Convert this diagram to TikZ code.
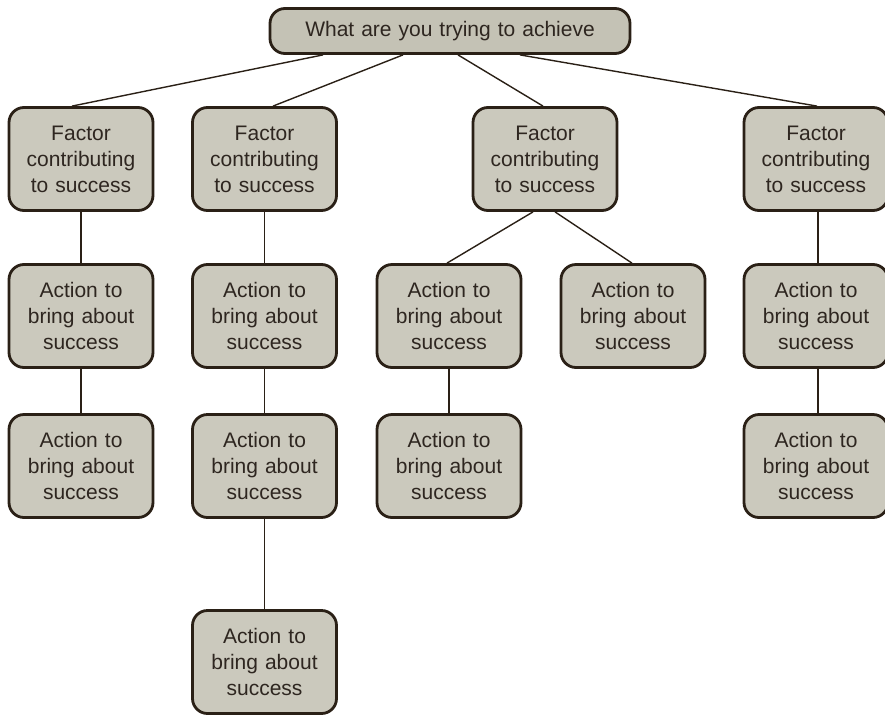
\documentclass[tikz,border=0pt]{standalone}
\usepackage{fontspec}
\setmainfont{Liberation Sans}
\definecolor{boxfill}{HTML}{CBC9BD}
\definecolor{topfill}{HTML}{C4C2B5}
\definecolor{edge}{HTML}{2A2016}
\definecolor{ink}{HTML}{2E2620}
\begin{document}
\begin{tikzpicture}[x=1pt,y=-1pt,
  card/.style={draw=edge, line width=2.8pt, fill=boxfill, rounded corners=15pt,
    minimum width=144pt, minimum height=103pt, text width=140pt, align=center,
    inner sep=0pt, text=ink, font=\fontsize{21}{26}\selectfont},
  goal/.style={card, fill=topfill, minimum width=360pt, minimum height=45pt, text width=350pt},
  link/.style={draw=edge, line width=1.4pt}]
\useasboundingbox (0,0) rectangle (885,715);

% goal
\node[goal] (top) at (450,31) {What are you trying to achieve};

% factors
\node[card] (f1) at (81,159)  {Factor\\contributing\\to success};
\node[card] (f2) at (264.5,159) {Factor\\contributing\\to success};
\node[card] (f3) at (545,159) {Factor\\contributing\\to success};
\node[card] (f4) at (816,159) {Factor\\contributing\\to success};

% actions
\node[card] (a1) at (81,316)  {Action to\\bring about\\success};
\node[card] (b1) at (81,466)  {Action to\\bring about\\success};
\node[card] (a2) at (264.5,316) {Action to\\bring about\\success};
\node[card] (b2) at (264.5,466) {Action to\\bring about\\success};
\node[card] (c2) at (264.5,662) {Action to\\bring about\\success};
\node[card] (a3) at (449,316) {Action to\\bring about\\success};
\node[card] (b3) at (449,466) {Action to\\bring about\\success};
\node[card] (a4) at (633,316) {Action to\\bring about\\success};
\node[card] (a5) at (816,316) {Action to\\bring about\\success};
\node[card] (b5) at (816,466) {Action to\\bring about\\success};

% connectors
\draw[link] ([xshift=-127pt]top.south) -- ([xshift=-9pt]f1.north);
\draw[link] ([xshift=-47pt]top.south) -- ([xshift=8.5pt]f2.north);
\draw[link] ([xshift=8pt]top.south) -- ([xshift=-2pt]f3.north);
\draw[link] ([xshift=70pt]top.south) -- ([xshift=1pt]f4.north);
\draw[link] (f1) -- (a1);
\draw[link] (a1) -- (b1);
\draw[link] (f2) -- (a2);
\draw[link] (a2) -- (b2);
\draw[link] (b2) -- (c2);
\draw[link] ([xshift=-12pt]f3.south) -- ([xshift=-2pt]a3.north);
\draw[link] ([xshift=10pt]f3.south) -- ([xshift=-1pt]a4.north);
\draw[link] (a3) -- (b3);
\draw[link] ([xshift=2pt]f4.south) -- ([xshift=2pt]a5.north);
\draw[link] ([xshift=2pt]a5.south) -- ([xshift=2pt]b5.north);
\end{tikzpicture}
\end{document}
